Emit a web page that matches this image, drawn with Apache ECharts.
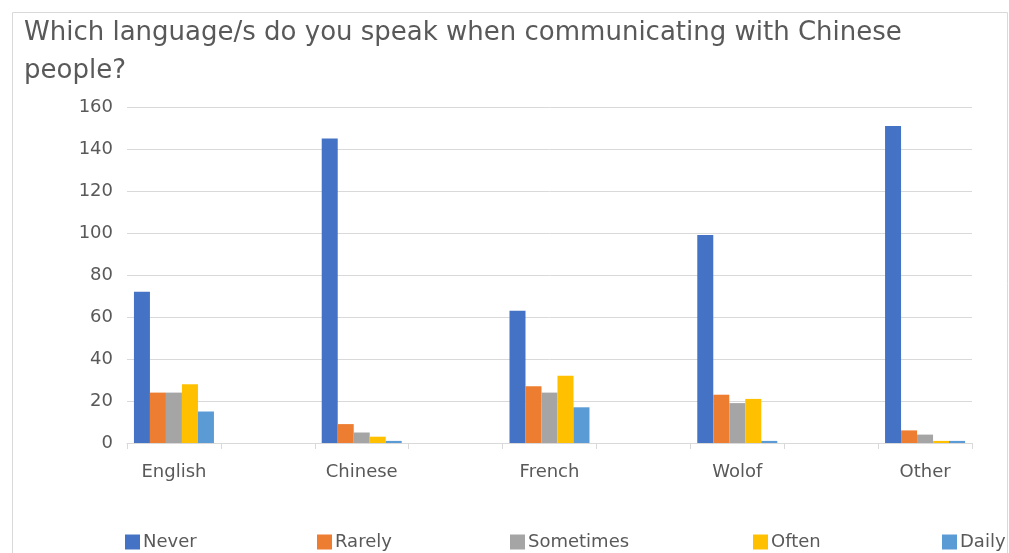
<!DOCTYPE html>
<html><head><meta charset="utf-8">
<script src="https://cdn.jsdelivr.net/npm/echarts@6/dist/echarts.min.js"></script>
<style>html,body{margin:0;padding:0;background:#fff}#c{width:1009px;height:553px}</style>
</head><body><div id="c"></div>
<script>
const categories = ['English', 'Chinese', 'French', 'Wolof', 'Other'];
const seriesNames = ['Never', 'Rarely', 'Sometimes', 'Often', 'Daily'];
const never     = [72, 145, 63, 99, 151];
const rarely    = [24, 9, 27, 23, 6];
const sometimes = [24, 5, 24, 19, 4];
const often     = [28, 3, 32, 21, 1];
const daily     = [15, 1, 17, 1, 1];
const yTicks = [0, 20, 40, 60, 80, 100, 120, 140, 160];
const colors = ['#4472C4', '#ED7D31', '#A5A5A5', '#FFC000', '#5B9BD5'];
const values = [never, rarely, sometimes, often, daily];

// Excel layout: empty slot between each category
const axisCats = [];
categories.forEach((c, i) => { axisCats.push(c); if (i < categories.length - 1) axisCats.push(''); });
function spread(arr) {
  const out = [];
  arr.forEach((v, i) => { out.push(v); if (i < arr.length - 1) out.push('-'); });
  return out;
}
const font = '"DejaVu Sans", sans-serif';
const legendLefts = [120, 312, 505, 748, 937];

const chart = echarts.init(document.getElementById('c'), null, {renderer: 'canvas'});
chart.setOption({
  animation: false,
  color: colors,
  title: {
    text: 'Which language/s do you speak when communicating with Chinese\npeople?',
    left: 19, top: 9,
    textStyle: {fontFamily: font, fontSize: 26, fontWeight: 'normal', color: '#595959', lineHeight: 38}
  },
  graphic: [{type: 'rect', left: 10, top: 10, shape: {width: 995, height: 560},
    style: {fill: 'none', stroke: '#d9d9d9', lineWidth: 1}, silent: true, z: -1}],
  legend: seriesNames.map((n, i) => ({
    data: [n], left: legendLefts[i], top: 528, itemWidth: 15, itemHeight: 15, itemGap: 0,
    icon: 'rect',
    textStyle: {fontFamily: font, fontSize: 18, color: '#595959', padding: [0, 0, 0, -2]}
  })),
  grid: {left: 127, right: 37, top: 107, bottom: 110, containLabel: false},
  xAxis: {
    type: 'category', data: axisCats,
    axisLine: {lineStyle: {color: '#d9d9d9'}},
    axisTick: {show: true, interval: 0, length: 6, lineStyle: {color: '#d9d9d9'}},
    axisLabel: {interval: 0, margin: 20, fontFamily: font, fontSize: 18, color: '#595959'}
  },
  yAxis: {
    type: 'value', min: 0, max: 160, interval: 20,
    axisLine: {show: false}, axisTick: {show: false},
    axisLabel: {margin: 14, fontFamily: font, fontSize: 18, color: '#595959',
      formatter: v => yTicks.includes(v) ? String(v) : ''},
    splitLine: {lineStyle: {color: '#d9d9d9', width: 1}}
  },
  series: seriesNames.map((n, i) => ({
    name: n, type: 'bar', data: spread(values[i]), barWidth: 16, barGap: '0%',
    itemStyle: {color: colors[i]}
  }))
});
</script></body></html>
